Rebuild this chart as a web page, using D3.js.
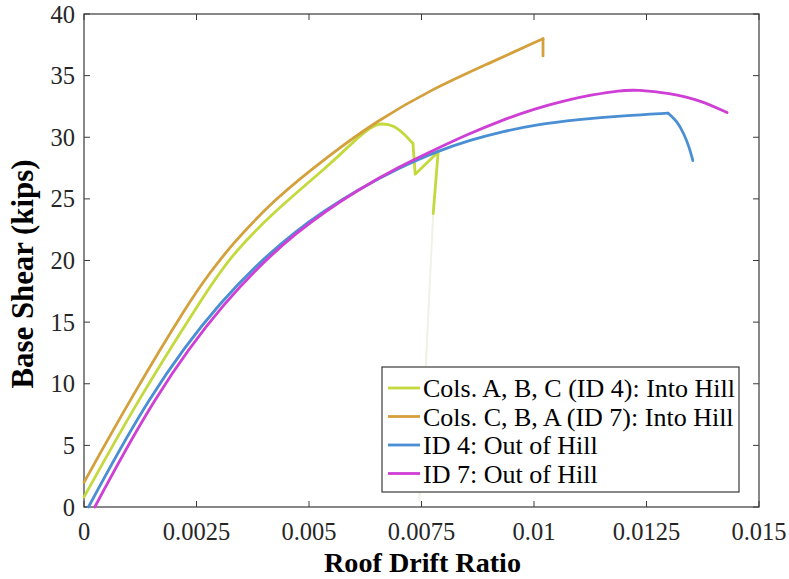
<!DOCTYPE html>
<html><head><meta charset="utf-8">
<script src="https://cdn.jsdelivr.net/npm/d3@7"></script>
<style>body{margin:0;background:#fff} svg text{font-family:"Liberation Serif","Times New Roman",serif;}</style>
</head><body><svg id="c" width="789" height="579"></svg>
<script>
const xTicks = [0, 0.0025, 0.005, 0.0075, 0.01, 0.0125, 0.015];
const xTickLabels = ["0", "0.0025", "0.005", "0.0075", "0.01", "0.0125", "0.015"];
const yTicks = [0, 5, 10, 15, 20, 25, 30, 35, 40];
const yTickLabels = ["0", "5", "10", "15", "20", "25", "30", "35", "40"];
const seriesNames = ["Cols. A, B, C (ID 4): Into Hill", "Cols. C, B, A (ID 7): Into Hill", "ID 4: Out of Hill", "ID 7: Out of Hill"];
const seriesColors = ["#c4d93c", "#d4a03c", "#4a8fd3", "#cf3fd5"];

// ID 4 into hill (yellow-green)
const yellowMain = [[0,0.8],[0.0012,8.7],[0.0026,16.8],[0.00324,20.3],[0.0042,23.9],[0.00547,27.8],[0.006,29.7],[0.0064,30.9],[0.0066,31.15],[0.0069,30.95],[0.0071,30.3],[0.00731,29.5]];
const yellowTail = [[0.00731,29.5],[0.00736,27.0],[0.00787,28.8],[0.00776,23.8]];
const yellowFaint = [[0.00776,23.8],[0.00745,0.5]];
// ID 7 into hill (orange)
const orangeMain = [[0,2.0],[0.00102,8.7],[0.00236,16.8],[0.0028,19.0],[0.00324,21.1],[0.0042,24.9],[0.00547,28.6],[0.0065,31.3],[0.0077,33.85],[0.009,36.0],[0.0102,38.0]];
const orangeTail = [[0.0102,38.0],[0.0102,36.6]];
// ID 4 out of hill (blue)
const blueMain = [[0.0001,0],[0.0014,8.8],[0.003,16.8],[0.00473,22.7],[0.0062,26.0],[0.007,27.5],[0.0078,28.8],[0.0086,29.8],[0.0093,30.45],[0.01,31.0],[0.011,31.45],[0.012,31.75],[0.01298,31.95]];
const blueTail = [[0.01298,31.95],[0.01318,31.3],[0.01333,30.3],[0.01345,29.2],[0.01353,28.1]];
// ID 7 out of hill (magenta)
const magentaMain = [[0.00024,0],[0.00153,8.8],[0.00311,16.8],[0.00473,22.5],[0.0062,26.0],[0.007,27.6],[0.0078,29.0],[0.0085,30.2],[0.0093,31.4],[0.01,32.3],[0.0107,33.0],[0.0113,33.45],[0.0119,33.8],[0.0123,33.85],[0.013,33.6],[0.0137,33.0],[0.01429,32.0]];

const svg = d3.select("#c");
const L = 84, R = 759, T = 14, B = 507;
const x = d3.scaleLinear().domain([0, 0.015]).range([L, R]);
const y = d3.scaleLinear().domain([0, 40]).range([B, T]);
const axisColor = "#3a3a3a";

function fit(sel, target) {
  const n = sel.node();
  const fs = parseFloat(n.style.fontSize);
  const len = n.getComputedTextLength();
  sel.style("font-size", (fs * target / len).toFixed(2) + "px");
}

svg.append("rect").attr("x", L).attr("y", T).attr("width", R - L).attr("height", B - T)
  .attr("fill", "none").attr("stroke", axisColor).attr("stroke-width", 1.2);

const tl = 6;
const g = svg.append("g");
xTicks.forEach(t => {
  g.append("line").attr("x1", x(t)).attr("x2", x(t)).attr("y1", B).attr("y2", B - tl).attr("stroke", axisColor);
  g.append("line").attr("x1", x(t)).attr("x2", x(t)).attr("y1", T).attr("y2", T + tl).attr("stroke", axisColor);
});
yTicks.forEach(t => {
  g.append("line").attr("x1", L).attr("x2", L + tl).attr("y1", y(t)).attr("y2", y(t)).attr("stroke", axisColor);
  g.append("line").attr("x1", R).attr("x2", R - tl).attr("y1", y(t)).attr("y2", y(t)).attr("stroke", axisColor);
});
svg.append("g").selectAll("text").data(xTicks).join("text")
  .attr("x", d => x(d)).attr("y", 540).attr("text-anchor", "middle")
  .style("font-size", "24.5px").attr("fill", "#262626")
  .text((d, i) => xTickLabels[i]);
svg.append("g").selectAll("text").data(yTicks).join("text")
  .attr("x", 75).attr("y", d => y(d)).attr("dy", "0.35em").attr("text-anchor", "end")
  .style("font-size", "24.5px").attr("fill", "#262626")
  .text((d, i) => yTickLabels[i]);

const xl = svg.append("text").attr("x", (L + R) / 2 + 1).attr("y", 572).attr("text-anchor", "middle")
  .style("font-weight", "bold").style("font-size", "27px").attr("fill", "#000")
  .text("Roof Drift Ratio");
fit(xl, 197);
const yl = svg.append("text").attr("transform", `translate(33,274) rotate(-90)`).attr("text-anchor", "middle")
  .style("font-weight", "bold").style("font-size", "28px").attr("fill", "#000")
  .text("Base Shear (kips)");
fit(yl, 229);

const smooth = d3.line().x(d => x(d[0])).y(d => y(d[1])).curve(d3.curveBasis);
const straight = d3.line().x(d => x(d[0])).y(d => y(d[1]));
const lw = 2.8;
function draw(data, gen, color, w) {
  svg.append("path").attr("d", gen(data)).attr("fill", "none").attr("stroke", color)
    .attr("stroke-width", w || lw).attr("stroke-linejoin", "round").attr("stroke-linecap", "round");
}
draw(yellowFaint, straight, "#f1f1e6", 2);
draw(yellowMain, smooth, seriesColors[0]);
draw(yellowTail, straight, seriesColors[0]);
draw(orangeMain, smooth, seriesColors[1]);
draw(orangeTail, straight, seriesColors[1]);
draw(blueMain, smooth, seriesColors[2]);
draw(blueTail, smooth, seriesColors[2]);
draw(magentaMain, smooth, seriesColors[3]);

const lg = svg.append("g");
lg.append("rect").attr("x", 382).attr("y", 367).attr("width", 357).attr("height", 125)
  .attr("fill", "#fff").attr("stroke", axisColor).attr("stroke-width", 1.2);
let legendFont = null;
seriesNames.forEach((n, i) => {
  const cy = 388 + i * 28.5;
  lg.append("line").attr("x1", 388).attr("x2", 420).attr("y1", cy).attr("y2", cy)
    .attr("stroke", seriesColors[i]).attr("stroke-width", lw);
  const t = lg.append("text").attr("x", 423).attr("y", cy).attr("dy", "0.35em")
    .style("font-size", "26px").attr("fill", "#000").text(n);
  if (i === 0) { fit(t, 312); legendFont = t.style("font-size"); }
  else t.style("font-size", legendFont);
});
</script></body></html>
